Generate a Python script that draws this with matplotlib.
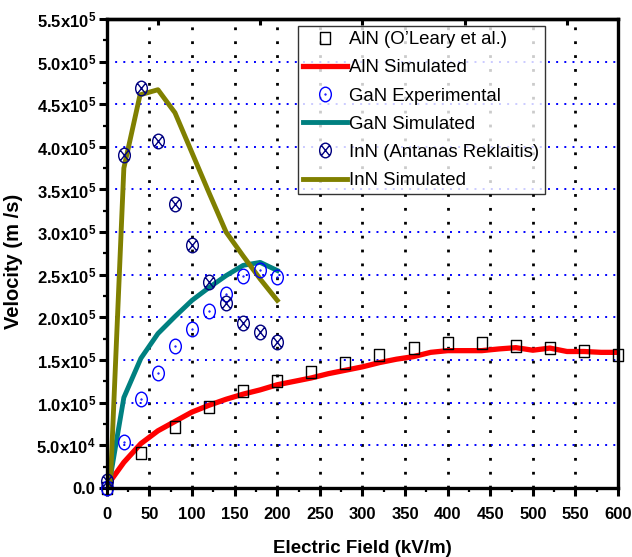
import numpy as np
import matplotlib
matplotlib.use("Agg")
import matplotlib.pyplot as plt
from matplotlib.path import Path
from matplotlib.transforms import Affine2D
from matplotlib.ticker import MultipleLocator, FuncFormatter, FixedLocator

plt.rcParams['font.family'] = ['Liberation Sans', 'DejaVu Sans']
plt.rcParams['mathtext.fontset'] = 'custom'
plt.rcParams['mathtext.rm'] = 'Liberation Sans:bold'
plt.rcParams['mathtext.it'] = 'Liberation Sans:bold'
plt.rcParams['mathtext.bf'] = 'Liberation Sans:bold'

# AlN: O'Leary et al. data and simulation
aln_exp_field = [0, 40, 80, 120, 160, 200, 240, 280, 320, 360, 400, 440, 480, 520, 560, 600]
aln_exp_vel = [0.0, 0.41e5, 0.72e5, 0.95e5, 1.14e5, 1.25e5, 1.36e5, 1.46e5, 1.56e5,
               1.64e5, 1.70e5, 1.70e5, 1.67e5, 1.645e5, 1.60e5, 1.56e5]
aln_sim_field = [2, 20, 40, 60, 80, 100, 120, 140, 160, 180, 200, 220, 240, 260, 280, 300,
                 320, 340, 360, 380, 400, 420, 440, 460, 480, 500, 520, 540, 560, 580, 600]
aln_sim_vel = [0.05e5, 0.30e5, 0.52e5, 0.67e5, 0.78e5, 0.89e5, 0.97e5, 1.04e5, 1.10e5, 1.15e5,
               1.21e5, 1.25e5, 1.29e5, 1.34e5, 1.38e5, 1.42e5, 1.47e5, 1.51e5, 1.54e5, 1.59e5,
               1.61e5, 1.61e5, 1.61e5, 1.63e5, 1.645e5, 1.615e5, 1.64e5, 1.60e5, 1.60e5,
               1.59e5, 1.59e5]

# GaN
gan_exp_field = [0, 20, 40, 60, 80, 100, 120, 140, 160, 180, 200]
gan_exp_vel = [0.0, 0.54e5, 1.04e5, 1.35e5, 1.66e5, 1.86e5, 2.08e5, 2.28e5, 2.48e5, 2.55e5, 2.47e5]
gan_sim_field = [2, 20, 40, 60, 80, 100, 120, 140, 160, 180, 200]
gan_sim_vel = [0.0, 1.06e5, 1.52e5, 1.81e5, 2.01e5, 2.20e5, 2.35e5, 2.49e5, 2.61e5, 2.645e5, 2.55e5]

# InN: Antanas Reklaitis data and simulation
inn_exp_field = [0, 20, 40, 60, 80, 100, 120, 140, 160, 180, 200]
inn_exp_vel = [0.08e5, 3.90e5, 4.69e5, 4.07e5, 3.33e5, 2.85e5, 2.42e5, 2.17e5, 1.94e5, 1.83e5, 1.71e5]
inn_sim_field = [4, 20, 39, 60, 80, 100, 120, 140, 160, 180, 200]
inn_sim_vel = [0.0, 3.75e5, 4.61e5, 4.67e5, 4.40e5, 3.93e5, 3.46e5, 3.00e5, 2.72e5, 2.45e5, 2.20e5]

labels = ["AlN (O\u2019Leary et al.)", "AlN Simulated", "GaN Experimental",
          "GaN Simulated", "InN (Antanas Reklaitis)", "InN Simulated"]


def ellipse(extra=None):
    circ = Path.unit_circle().transformed(Affine2D().scale(0.8, 1.0))
    parts = [circ]
    if extra == 'dot':
        parts.append(Path.unit_circle().transformed(Affine2D().scale(0.06)))
    elif extra == 'cross':
        c = 0.8 * np.cos(np.pi / 4)
        s = np.sin(np.pi / 4)
        parts.append(Path([(-c, -s), (c, s)], [Path.MOVETO, Path.LINETO]))
        parts.append(Path([(-c, s), (c, -s)], [Path.MOVETO, Path.LINETO]))
    return Path.make_compound_path(*parts)


box = Path([(-0.85, -1), (0.85, -1), (0.85, 1), (-0.85, 1), (-0.85, -1)],
           [Path.MOVETO, Path.LINETO, Path.LINETO, Path.LINETO, Path.CLOSEPOLY])

fig = plt.figure(figsize=(6.32, 5.57), dpi=100)
ax = fig.add_axes([0.169, 0.124, 0.809, 0.842])

ax.plot(aln_exp_field, aln_exp_vel, ls='none', marker=box, ms=8.8, mfc='none',
        mec='black', mew=1.0, label=labels[0], clip_on=False, zorder=4)
ax.plot(aln_sim_field, aln_sim_vel, color='#ff0000', lw=3.8, label=labels[1], zorder=3)
ax.plot(gan_exp_field, gan_exp_vel, ls='none', marker=ellipse('dot'), ms=10.5, mfc='none',
        mec='#0000ff', mew=1.0, label=labels[2], clip_on=False, zorder=4)
ax.plot(gan_sim_field, gan_sim_vel, color='#008080', lw=3.5, label=labels[3], zorder=3)
ax.plot(inn_exp_field, inn_exp_vel, ls='none', marker=ellipse('cross'), ms=10.5, mfc='none',
        mec='#000080', mew=1.0, label=labels[4], clip_on=False, zorder=4)
ax.plot(inn_sim_field, inn_sim_vel, color='#808000', lw=3.5, label=labels[5], zorder=3)

ax.set_xlim(0, 600)
ax.set_ylim(0, 5.5e5)

ax.xaxis.set_major_locator(MultipleLocator(50))
ax.xaxis.set_minor_locator(MultipleLocator(25))
ax.yaxis.set_major_locator(MultipleLocator(0.5e5))
ax.yaxis.set_minor_locator(MultipleLocator(0.25e5))


def sci_label(v, pos):
    if abs(v) < 1:
        return '0.0'
    if v < 0:
        return ''
    e = int(np.floor(np.log10(v) + 1e-9))
    return '%.1fx10$^{%d}$' % (v / 10 ** e, e)


ax.yaxis.set_major_formatter(FuncFormatter(sci_label))

# dotted grid: black verticals, blue horizontals
ax.set_axisbelow(True)
ax.grid(axis='x', which='major', color='black', lw=2.0, ls=(0, (1.0, 4.0)))
ax.grid(axis='y', which='major', color='#0000ff', lw=1.4, ls=(0, (1.0, 3.2)))

for sp in ax.spines.values():
    sp.set_linewidth(2.4)
    sp.set_zorder(5)

ax.tick_params(which='major', direction='out', length=6, width=2.2, labelsize=12, pad=2)
ax.tick_params(which='minor', direction='out', length=3, width=1.6)
ax.tick_params(axis='x', which='major', pad=8)
for t in ax.get_xticklabels() + ax.get_yticklabels():
    t.set_fontweight('bold')

# small inward ticks along the top edge
top = ax.secondary_xaxis('top')
top.xaxis.set_major_locator(FixedLocator([60, 180, 300, 420, 540]))
top.tick_params(direction='in', length=4, width=2.2, labeltop=False)
top.spines['top'].set_linewidth(2.4)

ax.set_xlabel('Electric Field (kV/m)', fontsize=13.5, fontweight='bold', labelpad=13)
ax.set_ylabel('Velocity (m /s)', fontsize=14.5, fontweight='bold')
ax.yaxis.set_label_coords(-0.164, 0.484)

leg = ax.legend(loc='upper left', bbox_to_anchor=(0.373, 0.985), borderaxespad=0,
                fontsize=13.4, frameon=True, fancybox=False, edgecolor='black',
                borderpad=0.28, handlelength=2.4, handletextpad=0.1,
                labelspacing=0.6)
leg.get_frame().set_linewidth(1.0)

fig.savefig('out.png', dpi=100)
